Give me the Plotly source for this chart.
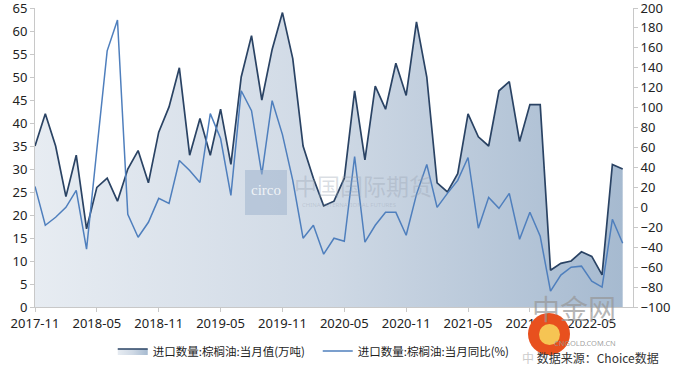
import pandas as pd
import plotly.graph_objects as go

months = [p.strftime("%Y-%m") for p in pd.period_range("2017-11", "2022-08", freq="M")]

import_volume = [35, 42, 35, 24, 33, 17, 26, 28, 23, 30,
                 34, 27, 38, 43.5, 52, 33, 41, 33, 43, 31,
                 50, 59, 45, 56, 64, 54, 35, 28, 22, 23,
                 28, 47, 32, 48, 43, 53, 46, 62, 50, 27,
                 25, 29, 42, 37, 35, 47, 49, 36, 44, 44,
                 8, 9.5, 10, 12, 11, 7, 31, 30]

yoy_change = [21, -18, -10, 0, 17, -42, 58, 157, 188, -7,
              -30, -15, 9, 4, 47, 37, 25, 94, 69, 12,
              117, 97, 33, 107, 73, 27, -31, -18, -47, -31,
              -34, 51, -35, -18, -5, -5, -28, 13, 43, 0,
              14, 27, 50, -21, 10, -1, 14, -32, -5, -29,
              -84, -68, -60, -59, -74, -80, -12, -36]

tick_months = months[::6]
left_ticks = list(range(0, 70, 5))
right_ticks = list(range(-100, 220, 20))

name_volume = "进口数量:棕榈油:当月值(万吨)"
name_yoy = "进口数量:棕榈油:当月同比(%)"

fig = go.Figure()
fig.add_trace(go.Scatter(
    x=months, y=import_volume, name=name_volume, mode="lines",
    line=dict(color="#2a4364", width=1.7),
    fill="tozeroy",
    fillgradient=dict(type="horizontal",
                      colorscale=[[0, "#e7ecf2"], [0.5, "#cfd9e5"], [1, "#a6bad0"]]),
))
fig.add_trace(go.Scatter(
    x=months, y=yoy_change, name=name_yoy, mode="lines", yaxis="y2",
    line=dict(color="#4f7fbd", width=1.5),
))

axis_font = dict(family="Noto Sans, DejaVu Sans, sans-serif", size=13, color="#222")

T, B = 8, 307
fig.update_layout(
    width=680, height=385,
    margin=dict(l=35, r=47, t=T, b=385 - B, autoexpand=False),
    paper_bgcolor="white", plot_bgcolor="white",
    xaxis=dict(type="category", range=[0, 58], tickmode="array",
               tickvals=tick_months, ticktext=tick_months,
               showgrid=False, showline=True, linecolor="#c8c8c8",
               ticks="outside", ticklen=4, tickcolor="#c8c8c8",
               tickfont=axis_font, tickangle=0, zeroline=False, automargin=False,
               ticklabeloverflow="allow"),
    yaxis=dict(range=[0, 65], tickmode="array", tickvals=left_ticks,
               showgrid=False, showline=True,
               linecolor="#c8c8c8", ticks="outside", ticklen=4,
               tickcolor="#c8c8c8", tickfont=axis_font, zeroline=False, automargin=False,
               ticklabeloverflow="allow"),
    yaxis2=dict(range=[-100, 200], tickmode="array", tickvals=right_ticks,
                overlaying="y", side="right",
                showgrid=False, showline=True, linecolor="#c8c8c8",
                ticks="outside", ticklen=4, tickcolor="#c8c8c8",
                tickfont=axis_font, zeroline=False, automargin=False,
                ticklabeloverflow="allow"),
    legend=dict(orientation="h", x=0.130, xanchor="left", y=(B - 351) / (B - T),
                yanchor="middle", font=dict(family="Noto Sans CJK SC", size=11.5, color="#222"),
                bgcolor="rgba(0,0,0,0)", itemwidth=30, entrywidth=160),
    showlegend=True,
    font=dict(family="Noto Sans CJK SC"),
)

H = B - T
def py(p):
    return (B - p) / H

def px(p):
    return (p - 35) / 598

# watermark
fig.add_shape(type="rect", xref="paper", yref="paper",
              x0=px(245), x1=px(287), y0=py(215), y1=py(170),
              fillcolor="rgba(160,180,205,0.55)", line_width=0, layer="above")
fig.add_annotation(xref="paper", yref="paper", x=px(266), y=py(190),
                   text="circo", showarrow=False,
                   font=dict(family="Liberation Serif", size=15, color="rgba(255,255,255,0.8)"))
fig.add_annotation(xref="paper", yref="paper", x=px(292), y=py(185),
                   xanchor="left", text="中国国际期货", showarrow=False,
                   font=dict(family="Noto Sans CJK SC", size=23, color="rgba(150,160,175,0.35)"))
fig.add_annotation(xref="paper", yref="paper", x=px(300), y=py(211),
                   xanchor="left", text="CHINA INTERNATIONAL FUTURES", showarrow=False,
                   font=dict(family="Noto Sans", size=6, color="rgba(150,160,175,0.35)"))

# bottom-right logo and source
fig.add_shape(type="circle", xref="paper", yref="paper",
              x0=px(528), x1=px(570), y0=py(355), y1=py(313),
              fillcolor="#e8501e", line_width=0, layer="above")
fig.add_shape(type="circle", xref="paper", yref="paper",
              x0=px(539), x1=px(560), y0=py(345), y1=py(324),
              fillcolor="#f6c453", line_width=0, layer="above")
fig.add_annotation(xref="paper", yref="paper", x=px(618), y=py(330),
                   text="中金网", showarrow=False,
                   font=dict(family="Noto Sans CJK SC", size=28, color="rgba(150,150,150,0.7)"))
fig.add_annotation(xref="paper", yref="paper", x=px(618), y=py(350),
                   text="CNGOLD.COM.CN", showarrow=False,
                   font=dict(family="Noto Sans", size=7.5, color="rgba(150,150,150,0.9)"))
fig.add_annotation(xref="paper", yref="paper", x=px(520), y=py(368),
                   xanchor="left", text="<span style='color:#ccc'>中 </span>数据来源：Choice数据",
                   showarrow=False,
                   font=dict(family="Noto Sans CJK SC", size=12, color="#333"))

fig.write_html("out.html", config={"displayModeBar": False},
               post_script="document.body.style.margin='0';")
